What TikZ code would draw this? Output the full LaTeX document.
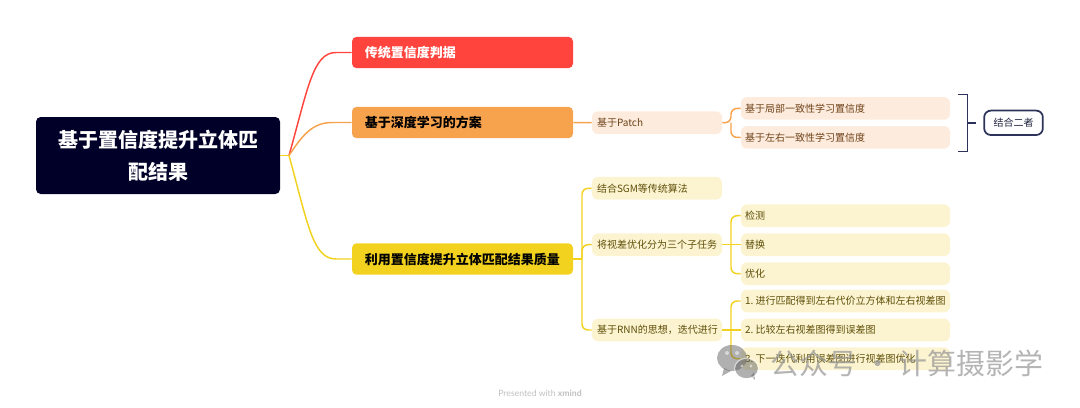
\documentclass[tikz,border=0pt]{standalone}
\usepackage{fontspec}
\setmainfont{Noto Sans CJK SC}
\newfontfamily\latfont{Lato}
\definecolor{rootc}{HTML}{000028}
\definecolor{redc}{HTML}{FF443D}
\definecolor{orangec}{HTML}{F7A24D}
\definecolor{yellowc}{HTML}{F2D21E}
\definecolor{lorange}{HTML}{FDEBDD}
\definecolor{lyellow}{HTML}{FCF4D1}
\definecolor{torange}{HTML}{6E4218}
\definecolor{tyellow}{HTML}{5E4E08}
\definecolor{navy}{HTML}{2D3358}
\tikzset{
 x=0.75pt,y=-0.75pt,
 rootbox/.style={fill=rootc,text=white,rounded corners=3.5pt,minimum width=183pt,minimum height=57.75pt,text width=160pt,align=center,inner sep=0pt,font=\fontsize{15}{24}\selectfont\bfseries},
 mainbox/.style={rounded corners=3.5pt,minimum width=165.75pt,minimum height=23.6pt,text width=146.5pt,align=left,inner sep=0pt,font=\fontsize{9.75}{12}\selectfont\bfseries},
 subbox/.style={rounded corners=4.5pt,minimum height=17pt,align=left,inner sep=0pt,font=\fontsize{7.5}{10}\selectfont},
 midbox/.style={subbox,minimum width=97.5pt,text width=90pt},
 leafbox/.style={subbox,minimum width=156.75pt,text width=150.5pt},
 obox/.style={fill=lorange,text=torange},
 ybox/.style={fill=lyellow,text=tyellow},
 link/.style={line width=1.1pt,rounded corners=4.5pt},
 curve/.style={line width=1.1pt},
}
\begin{document}
\begin{tikzpicture}
\useasboundingbox (0,0) rectangle (1080,407);
% nodes
\node[rootbox] (root) at (158,155.5) {基于置信度提升立体匹\\配结果};
\node[mainbox,fill=redc,text=white] (m1) at (462.5,52.5) {传统置信度判据};
\node[mainbox,fill=orangec,text=black] (m2) at (462.5,122.5) {基于深度学习的方案};
\node[mainbox,fill=yellowc,text=black] (m3) at (462.5,259) {利用置信度提升立体匹配结果质量};
\coordinate (hub) at (289,155.5);
\coordinate (rl) at (336,52.5);
\coordinate (ol) at (332,122.5);
\coordinate (yl) at (336,259);
\draw[curve,draw=yellowc] (root.east) -- (hub);
\draw[curve,draw=redc] (hub) .. controls (308,88) and (313,52.5) .. (rl) -- (m1.west);
\draw[curve,draw=orangec] (hub) .. controls (302,136) and (312,122.5) .. (ol) -- (m2.west);
\draw[curve,draw=yellowc] (hub) .. controls (308,225) and (313,259) .. (yl) -- (m3.west);
% orange branch
\node[midbox,obox] (patch) at (657,122.7) {基于Patch};
\node[leafbox,obox] (o1) at (845.5,108.4) {基于局部一致性学习置信度};
\node[leafbox,obox] (o2) at (845.5,137.4) {基于左右一致性学习置信度};
\draw[link,draw=orangec] (m2.east) -- (patch.west);
\coordinate (os) at (731,122.7);
\draw[link,draw=orangec] (patch.east) -- (os) |- (o1.west);
\draw[link,draw=orangec] (os) |- (o2.west);
% summary
\coordinate (bt) at (957.5,94.5);
\coordinate (bb) at (957.5,151.5);
\coordinate (bm) at (967.5,122.7);
\coordinate (bx) at (976,122.7);
\draw[line width=1.4pt,draw=navy] (bt) -| (bm) |- (bb);
\draw[line width=1.4pt,draw=navy] (bm) -- (bx);
\node[draw=navy,line width=1.3pt,fill=white,rounded corners=5pt,minimum width=44pt,minimum height=18.3pt,inner sep=0pt,font=\fontsize{7.5}{10}\selectfont,text=navy!70!black] (both) at (1013.5,122.8) {结合二者};
% yellow branch
\coordinate (ys) at (582,259);
\node[midbox,ybox] (sgm) at (657,188.3) {结合SGM等传统算法};
\node[midbox,ybox] (task) at (657,244.7) {将视差优化分为三个子任务};
\node[midbox,ybox] (rnn) at (657,330) {基于RNN的思想，迭代进行};
\draw[link,draw=yellowc] (m3.east) -- (ys);
\draw[link,draw=yellowc] (ys) |- (sgm.west);
\draw[link,draw=yellowc] (ys) |- (task.west);
\draw[link,draw=yellowc] (ys) |- (rnn.west);
\node[leafbox,ybox] (t1) at (845.5,215.7) {检测};
\node[leafbox,ybox] (t2) at (845.5,244.7) {替换};
\node[leafbox,ybox] (t3) at (845.5,273.7) {优化};
\coordinate (ts) at (731,244.7);
\draw[link,draw=yellowc] (task.east) -- (t2.west);
\draw[link,draw=yellowc] (ts) |- (t1.west);
\draw[link,draw=yellowc] (ts) |- (t3.west);
\node[leafbox,ybox] (r1) at (845.5,301) {1.\kern1.5pt 进行匹配得到左右代价立方体和左右视差图};
\node[leafbox,ybox] (r2) at (845.5,330) {2.\kern1.5pt 比较左右视差图得到误差图};
\node[leafbox,ybox] (r3) at (845.5,358.7) {3.\kern1.5pt 下一迭代利用误差图进行视差图优化};
\coordinate (rs) at (731,330);
\draw[link,draw=yellowc] (rnn.east) -- (r2.west);
\draw[link,draw=yellowc] (rs) |- (r1.west);
\draw[link,draw=yellowc] (rs) |- (r3.west);
% footer
\node[inner sep=0pt,text=black!25,font=\latfont\fontsize{6.5}{8}\selectfont] (foot) at (540,393) {Presented with \textbf{xmind}};
% watermark
\begin{scope}[opacity=0.5]
\fill[black!62] (732,358) ellipse [x radius=15,y radius=13];
\fill[black!62] (724,368) -- (722,376) -- (731,371) -- cycle;
\fill[white] (727,353) circle (2);
\fill[white] (737,353) circle (2);
\fill[black!62] (746.5,368.5) ellipse [x radius=11.5,y radius=9.8];
\fill[black!62] (751,376) -- (755,380) -- (754,372) -- cycle;
\draw[white,line width=0.9pt] (746.5,368.5) ellipse [x radius=12,y radius=10.3];
\fill[white] (742,366) circle (1.6);
\fill[white] (751,366) circle (1.6);
\end{scope}
\node[inner sep=0pt,anchor=west,text=black!42,opacity=0.7,font=\fontsize{21.7}{24}\selectfont] (wm) at (770,363) {公众号 · 计算摄影学};
\end{tikzpicture}
\end{document}
